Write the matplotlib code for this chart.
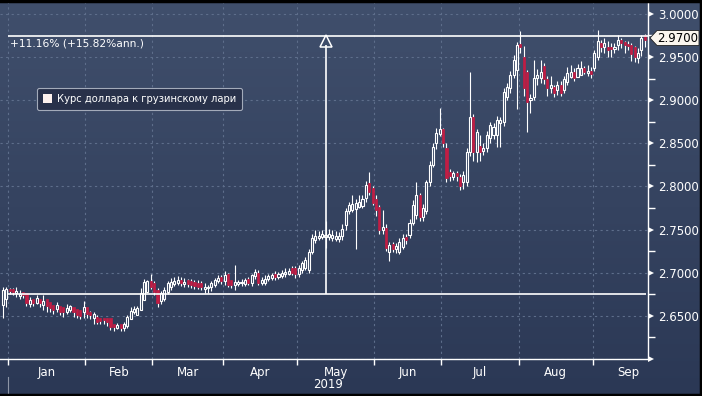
import numpy as np
import pandas as pd
import matplotlib
matplotlib.use('Agg')
import matplotlib.pyplot as plt
from matplotlib.colors import LinearSegmentedColormap
from matplotlib.patches import Patch, Polygon
from matplotlib.lines import Line2D
from matplotlib.ticker import FixedLocator, FixedFormatter, NullFormatter
import matplotlib.transforms as mtransforms

# ---- data: daily USD/GEL candles, Dec 28 2018 .. Sep 2019 ----
opens = [
    # Dec
    2.663, 2.670,
    # Jan
    2.681, 2.681, 2.677, 2.673, 2.678, 2.677, 2.664, 2.669, 2.665, 2.670, 2.663, 2.669,
    2.666, 2.663, 2.658, 2.662, 2.660, 2.655, 2.657, 2.660, 2.658, 2.657, 2.655,
    # Feb
    2.660, 2.655, 2.648, 2.649, 2.648, 2.648, 2.647, 2.647, 2.641, 2.636, 2.640, 2.636,
    2.638, 2.646, 2.654, 2.651, 2.657, 2.668, 2.678, 2.690,
    # Mar
    2.688, 2.680, 2.667, 2.669, 2.678, 2.683, 2.687, 2.688, 2.692, 2.687, 2.691, 2.690,
    2.689, 2.688, 2.688, 2.681, 2.682, 2.683, 2.686, 2.690, 2.695,
    # Apr
    2.690, 2.699, 2.691, 2.686, 2.687, 2.688, 2.687, 2.693, 2.688, 2.696, 2.700, 2.688,
    2.688, 2.693, 2.694, 2.699, 2.695, 2.696, 2.698, 2.699, 2.706, 2.706,
    # May
    2.698, 2.703, 2.706, 2.703, 2.724, 2.738, 2.740, 2.741, 2.741, 2.741, 2.740, 2.739,
    2.739, 2.742, 2.755, 2.771, 2.773, 2.774, 2.776, 2.777, 2.787, 2.804, 2.798,
    # Jun
    2.785, 2.776, 2.749, 2.752, 2.724, 2.733, 2.727, 2.724, 2.730, 2.741, 2.744, 2.758,
    2.767, 2.790, 2.765, 2.771, 2.805, 2.825, 2.850, 2.861,
    # Jul
    2.866, 2.845, 2.817, 2.811, 2.816, 2.811, 2.805, 2.805, 2.840, 2.881, 2.840, 2.847,
    2.841, 2.845, 2.856, 2.860, 2.860, 2.874, 2.875, 2.904, 2.914, 2.929, 2.935,
    # Aug
    2.965, 2.950, 2.933, 2.900, 2.904, 2.926, 2.926, 2.939, 2.924, 2.914, 2.915, 2.912,
    2.918, 2.912, 2.921, 2.927, 2.933, 2.927, 2.929, 2.937, 2.932, 2.934,
    # Sep
    2.937, 2.950, 2.966, 2.962, 2.962, 2.961, 2.959, 2.964, 2.970, 2.967, 2.965, 2.964,
    2.961, 2.949, 2.958, 2.975,
]
closes = [
    2.680, 2.681,
    2.679, 2.678, 2.679, 2.675, 2.674, 2.665, 2.668, 2.665, 2.671, 2.665, 2.667, 2.661,
    2.659, 2.657, 2.663, 2.655, 2.654, 2.659, 2.661, 2.654, 2.651, 2.650, 2.660,
    2.652, 2.651, 2.652, 2.643, 2.644, 2.645, 2.643, 2.637, 2.637, 2.639, 2.636, 2.640,
    2.649, 2.656, 2.658, 2.659, 2.677, 2.689, 2.690, 2.684,
    2.678, 2.665, 2.677, 2.680, 2.688, 2.689, 2.690, 2.692, 2.688, 2.689, 2.687, 2.686,
    2.685, 2.684, 2.684, 2.684, 2.684, 2.688, 2.692, 2.694, 2.690,
    2.697, 2.686, 2.686, 2.689, 2.689, 2.689, 2.691, 2.688, 2.697, 2.701, 2.688, 2.692,
    2.693, 2.696, 2.697, 2.695, 2.698, 2.700, 2.701, 2.702, 2.700, 2.699,
    2.706, 2.711, 2.715, 2.724, 2.740, 2.742, 2.743, 2.745, 2.744, 2.745, 2.744, 2.743,
    2.742, 2.751, 2.771, 2.779, 2.780, 2.781, 2.782, 2.785, 2.802, 2.794, 2.781,
    2.773, 2.750, 2.753, 2.729, 2.732, 2.727, 2.731, 2.736, 2.740, 2.738, 2.758, 2.779,
    2.790, 2.765, 2.775, 2.805, 2.825, 2.846, 2.862, 2.866,
    2.850, 2.810, 2.812, 2.815, 2.812, 2.800, 2.813, 2.840, 2.881, 2.840, 2.863, 2.840,
    2.845, 2.860, 2.871, 2.869, 2.877, 2.877, 2.910, 2.915, 2.929, 2.947, 2.964,
    2.962, 2.914, 2.898, 2.903, 2.926, 2.929, 2.933, 2.924, 2.914, 2.917, 2.908, 2.918,
    2.908, 2.924, 2.932, 2.933, 2.926, 2.937, 2.937, 2.933, 2.934, 2.930,
    2.955, 2.968, 2.962, 2.966, 2.958, 2.959, 2.961, 2.970, 2.966, 2.964, 2.963, 2.953,
    2.950, 2.955, 2.972, 2.970,
]
highs = [
    2.683, 2.684,
    2.682, 2.682, 2.683, 2.680, 2.678, 2.677, 2.672, 2.670, 2.674, 2.670, 2.674, 2.668,
    2.665, 2.663, 2.666, 2.662, 2.660, 2.664, 2.663, 2.660, 2.656, 2.655, 2.667,
    2.660, 2.656, 2.655, 2.651, 2.648, 2.647, 2.647, 2.645, 2.640, 2.642, 2.641, 2.643,
    2.651, 2.660, 2.661, 2.662, 2.682, 2.693, 2.692, 2.699,
    2.690, 2.682, 2.679, 2.683, 2.690, 2.694, 2.695, 2.696, 2.695, 2.694, 2.693, 2.693,
    2.692, 2.691, 2.690, 2.688, 2.686, 2.690, 2.694, 2.697, 2.697,
    2.702, 2.700, 2.692, 2.709, 2.691, 2.693, 2.694, 2.695, 2.699, 2.704, 2.703, 2.695,
    2.697, 2.699, 2.700, 2.702, 2.701, 2.703, 2.705, 2.706, 2.708, 2.708,
    2.709, 2.714, 2.718, 2.728, 2.745, 2.750, 2.748, 2.749, 2.760, 2.751, 2.749, 2.748,
    2.747, 2.756, 2.775, 2.782, 2.790, 2.786, 2.790, 2.790, 2.806, 2.817, 2.800,
    2.790, 2.778, 2.773, 2.756, 2.736, 2.736, 2.734, 2.740, 2.745, 2.745, 2.762, 2.784,
    2.805, 2.792, 2.780, 2.808, 2.830, 2.850, 2.868, 2.891,
    2.868, 2.850, 2.820, 2.818, 2.818, 2.814, 2.818, 2.845, 2.933, 2.884, 2.866, 2.860,
    2.850, 2.864, 2.875, 2.874, 2.882, 2.880, 2.914, 2.920, 2.934, 2.952, 2.967,
    2.980, 2.963, 2.935, 2.907, 2.947, 2.936, 2.946, 2.943, 2.928, 2.928, 2.918, 2.922,
    2.922, 2.928, 2.938, 2.941, 2.937, 2.942, 2.945, 2.940, 2.941, 2.938,
    2.958, 2.981, 2.970, 2.972, 2.968, 2.966, 2.966, 2.975, 2.972, 2.969, 2.968, 2.966,
    2.963, 2.960, 2.975, 2.977,
]
lows = [
    2.648, 2.660,
    2.675, 2.674, 2.672, 2.670, 2.671, 2.662, 2.660, 2.661, 2.664, 2.660, 2.657, 2.655,
    2.654, 2.652, 2.655, 2.651, 2.649, 2.652, 2.655, 2.649, 2.647, 2.646, 2.648,
    2.648, 2.646, 2.641, 2.640, 2.640, 2.641, 2.638, 2.634, 2.633, 2.635, 2.632, 2.633,
    2.636, 2.648, 2.652, 2.654, 2.657, 2.674, 2.686, 2.681,
    2.674, 2.660, 2.664, 2.667, 2.675, 2.680, 2.685, 2.686, 2.685, 2.684, 2.683, 2.682,
    2.681, 2.681, 2.680, 2.677, 2.676, 2.679, 2.684, 2.688, 2.687,
    2.686, 2.683, 2.682, 2.680, 2.685, 2.685, 2.685, 2.686, 2.685, 2.693, 2.686, 2.686,
    2.686, 2.690, 2.692, 2.692, 2.693, 2.694, 2.695, 2.697, 2.697, 2.694,
    2.695, 2.700, 2.703, 2.700, 2.722, 2.734, 2.738, 2.739, 2.729, 2.738, 2.737, 2.737,
    2.736, 2.738, 2.750, 2.768, 2.770, 2.727, 2.775, 2.775, 2.782, 2.790, 2.778,
    2.766, 2.745, 2.745, 2.725, 2.714, 2.724, 2.723, 2.722, 2.727, 2.733, 2.740, 2.755,
    2.762, 2.760, 2.760, 2.768, 2.800, 2.822, 2.843, 2.858,
    2.846, 2.805, 2.806, 2.808, 2.806, 2.796, 2.797, 2.800, 2.835, 2.830, 2.828, 2.830,
    2.836, 2.840, 2.850, 2.855, 2.846, 2.846, 2.870, 2.900, 2.908, 2.926, 2.890,
    2.955, 2.905, 2.863, 2.885, 2.900, 2.918, 2.920, 2.919, 2.905, 2.908, 2.904, 2.906,
    2.905, 2.908, 2.918, 2.926, 2.922, 2.929, 2.931, 2.930, 2.928, 2.926,
    2.934, 2.946, 2.956, 2.955, 2.950, 2.950, 2.955, 2.958, 2.960, 2.955, 2.958, 2.945,
    2.944, 2.943, 2.951, 2.962,
]
start_date = '2018-12-28'
range_low = 2.6758    # lower end of the change measurement
range_high = 2.9745   # upper end of the change measurement
last_value = 2.9700
change_text = '+11.16% (+15.82%ann.)'
series_name = 'Курс доллара к грузинскому лари'
month_names = ['Jan', 'Feb', 'Mar', 'Apr', 'May', 'Jun', 'Jul', 'Aug', 'Sep']
year_label = '2019'

# ---- colours ----
bg_top = '#404f6c'
bg_bottom = '#2b3855'
grid_col = '#5e6e8b'
red = '#c11d44'

W, H = 702, 396
fig = plt.figure(figsize=(W / 100, H / 100), dpi=100)

def fx(px):
    return px / W

def fy(py):
    return 1 - py / H

# gradient background
bgax = fig.add_axes([0, 0, 1, 1], zorder=-10)
grad = np.linspace(0, 1, 256).reshape(-1, 1)
bgax.imshow(grad, aspect='auto', extent=[0, 1, 0, 1],
            cmap=LinearSegmentedColormap.from_list('bg', [bg_top, bg_bottom]))
bgax.axis('off')

ax = fig.add_axes([0, fy(359), fx(648), fy(2) - fy(359)])
ax.patch.set_alpha(0)

n = len(closes)
dates = pd.bdate_range(start_date, periods=n)
idx = np.arange(n)
o = np.array(opens)
c = np.array(closes)
top = np.maximum(o, c)
bot = np.minimum(o, c)
h = np.maximum(np.array(highs), top)
l = np.minimum(np.array(lows), bot)
up = c >= o

# wicks
ax.vlines(idx, top, h, color='white', lw=0.8, zorder=3)
ax.vlines(idx, l, bot, color='white', lw=0.8, zorder=3)
# bodies
bw = 0.62
hgt = np.maximum(top - bot, 0.0004)
ax.bar(idx[up], hgt[up], bottom=bot[up], width=bw, facecolor='none',
       edgecolor='white', linewidth=0.8, zorder=4)
ax.bar(idx[~up], hgt[~up], bottom=bot[~up], width=bw, facecolor=red,
       edgecolor=red, linewidth=0.5, zorder=4)

# x axis: months by trading day
month_start = [i for i in range(1, n) if dates[i].month != dates[i - 1].month]
bounds = [i - 0.5 for i in month_start]
centers = []
for i in month_start:
    d = dates[i]
    full = pd.bdate_range(d.replace(day=1), d + pd.offsets.MonthEnd(0))
    centers.append(i - 0.5 + len(full) / 2)

x0 = bounds[0] - 8 / 3.36
x1 = bounds[0] + 640 / 3.36
ax.set_xlim(x0, x1)
ax.set_ylim(2.60, 2.60 + 357 / 862.9)

ax.xaxis.set_major_locator(FixedLocator(bounds))
ax.xaxis.set_major_formatter(NullFormatter())
ax.xaxis.set_minor_locator(FixedLocator(centers))
ax.xaxis.set_minor_formatter(FixedFormatter(month_names))
ax.tick_params(axis='x', which='major', direction='out', length=4, width=1,
               color='white')
ax.tick_params(axis='x', which='minor', length=0, pad=5, labelsize=8.5,
               labelcolor='white')

# y axis on the right
yt = np.round(np.arange(2.60, 3.0001, 0.05), 2)
ax.yaxis.tick_right()
ax.yaxis.set_major_locator(FixedLocator(yt))
ax.yaxis.set_major_formatter(FixedFormatter([''] + ['%.4f' % v for v in yt[1:]]))
ax.yaxis.set_minor_locator(FixedLocator(yt + 0.025))
ax.tick_params(axis='y', which='major', length=0, pad=7, labelsize=8.5,
               labelcolor='white')
ax.tick_params(axis='y', which='minor', direction='out', length=5, width=1,
               color='white')
tri_tr = ax.get_yaxis_transform() + mtransforms.ScaledTranslation(
    3.0 / 100, 0, fig.dpi_scale_trans)
ax.plot(np.ones(len(yt)), yt, ls='none', marker='>', ms=4.5, color='white',
        mew=0, transform=tri_tr, clip_on=False, zorder=6)

for s in ['top', 'left']:
    ax.spines[s].set_visible(False)
for s in ['right', 'bottom']:
    ax.spines[s].set_color('white')
    ax.spines[s].set_linewidth(1)

ax.grid(True, which='major', color=grid_col, linestyle=(0, (2, 3)), lw=0.8)
ax.set_axisbelow(True)

# change annotation
start_x = bounds[0]
mid_x = (start_x + idx[-1]) / 2
ax.hlines(range_high, start_x, x1, color='white', lw=1.2, clip_on=False, zorder=5)
ax.hlines(range_low, start_x, idx[-1] + 0.3, color='white', lw=1.2, zorder=5)
ax.vlines(mid_x, range_low, range_high - 0.0105, color='white', lw=1.2, zorder=5)
ax.plot(mid_x, range_high - 0.0058, marker='^', ms=8, mfc='none', mec='white',
        mew=1.1, zorder=6)
ax.text(0.015, fy(43.5), change_text, transform=mtransforms.blended_transform_factory(
    ax.transAxes, fig.transFigure), color='white', fontsize=7.7, va='center')

# legend
leg = ax.legend(handles=[Patch(facecolor='#fdf1ee', edgecolor='none', label=series_name)],
                loc='upper left', bbox_to_anchor=(fx(37) / fx(648), 1 - (88 - 2) / 357),
                borderaxespad=0, frameon=True, fancybox=True, framealpha=1,
                facecolor='#28314a', edgecolor='#a3abba', fontsize=7.2,
                labelcolor='white', handlelength=0.9, handleheight=0.9,
                handletextpad=0.5, borderpad=0.6)
leg.get_frame().set_linewidth(0.8)

# price tag
tag = Polygon([(fx(650), fy(38)), (fx(657), fy(30.5)), (fx(699), fy(30.5)),
               (fx(699), fy(45.5)), (fx(657), fy(45.5))], closed=True,
              transform=fig.transFigure, facecolor='#fbf6ee', edgecolor='#222222',
              lw=0.6, zorder=20)
fig.patches.append(tag)
fig.text(fx(677.5), fy(38), '%.4f' % last_value, color='black', fontsize=8.5,
         ha='center', va='center', zorder=21)

# year label and separator
fig.text(fx(328), fy(385), year_label, color='white', fontsize=8.5,
         ha='center', va='center')
fig.lines.append(Line2D([fx(8), fx(8)], [fy(377), fy(394)], transform=fig.transFigure,
                        color='#8d95a6', lw=0.8))

# black frame
for xs, ys in [([0, 1], [fy(0.8), fy(0.8)]), ([0, 1], [fy(395), fy(395)]),
               ([fx(701), fx(701)], [0, 1])]:
    fig.lines.append(Line2D(xs, ys, transform=fig.transFigure, color='black', lw=2.5))

fig.savefig('out.png', dpi=100)
